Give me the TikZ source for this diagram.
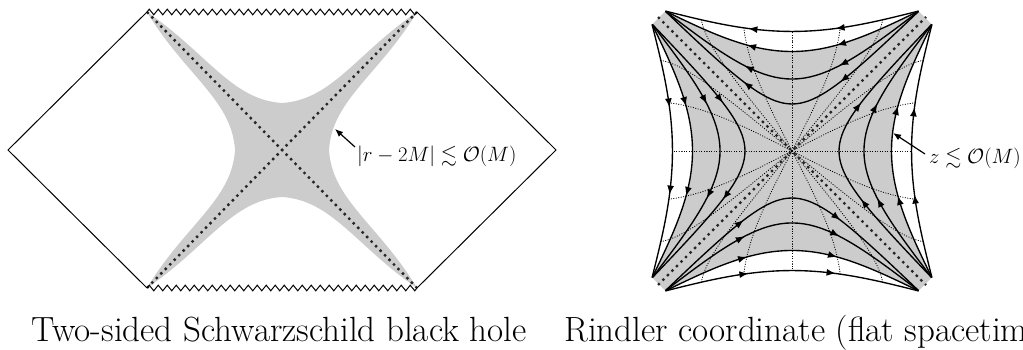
\documentclass[tikz,border=0pt]{standalone}
\usepackage{amssymb}
\usetikzlibrary{decorations.pathmorphing,decorations.markings,arrows.meta}
\begin{document}
\begin{tikzpicture}[x=1pt,y=1pt,
  declare function={
    wx(\p,\q)=1.411*(atan(\q*exp(\p))-atan(\q/exp(\p)));
    wt(\p,\q)=1.556*(atan(\q*exp(\p))+atan(\q/exp(\p)));
  },
  grayfill/.style={fill=black!20},
  horizon/.style={line width=2.4pt, dash pattern=on 2.4pt off 4pt, black!85},
  raddot/.style={line width=0.8pt, dash pattern=on 1pt off 1.5pt},
  outline/.style={line width=1pt},
  zz/.style={line width=1pt, decorate, decoration={zigzag, segment length=9pt, amplitude=2.8pt}},
  flow/.style={line width=1.35pt, postaction={decorate}, decoration={markings,
     mark=at position 0.33 with {\arrow{Latex[length=9pt,width=7pt]}},
     mark=at position 0.67 with {\arrow{Latex[length=9pt,width=7pt]}}}},
  pointer/.style={line width=1.2pt, -{Latex[length=8pt,width=6.5pt]}},
  labtext/.style={font=\fontsize{20.74}{25}\selectfont, inner sep=0pt},
  captext/.style={font=\fontsize{35}{40}\selectfont, inner sep=0pt}
]
\useasboundingbox (0,0) rectangle (1023,350);

% ---------------- left: Schwarzschild ----------------
\coordinate (TL) at (147,338);
\coordinate (TR) at (417,338);
\coordinate (BL) at (147,62);
\coordinate (BR) at (417,62);
\coordinate (LV) at (8,200);
\coordinate (RV) at (556,200);

\begin{scope}[shift={(282,200)}]
\fill[grayfill] (-135,138) .. controls (-97,75) and (-50,50) .. (-47,0)
  .. controls (-50,-50) and (-97,-75) .. (-135,-138)
  .. controls (-75,-97) and (-50,-50) .. (0,-47)
  .. controls (50,-50) and (75,-97) .. (135,-138)
  .. controls (97,-75) and (50,-50) .. (47,0)
  .. controls (50,50) and (97,75) .. (135,138)
  .. controls (75,97) and (50,50) .. (0,47)
  .. controls (-50,50) and (-75,97) .. (-135,138) -- cycle;
\end{scope}

\draw[horizon] (TL) -- (BR);
\draw[horizon] (BL) -- (TR);
\draw[outline] (TL) -- (LV) -- (BL);
\draw[outline] (TR) -- (RV) -- (BR);
\draw[zz] (TL) -- (TR);
\draw[zz] (BL) -- (BR);

\node[labtext, anchor=base west] (labL) at (357,188) {$|r-2M|\lesssim\mathcal{O}(M)$};
\coordinate (tailL) at (355,203);
\coordinate (tipL) at (335,221);
\draw[pointer] (tailL) -- (tipL);

% ---------------- right: Rindler ----------------
\begin{scope}[shift={(792,199)}]
\fill[grayfill] plot[domain=6:-6, samples=121] ({wx(\x,0.624)},{wt(\x,0.624)})
   -- plot[domain=6:-6, samples=121] ({-wt(\x,0.624)},{wx(\x,0.624)})
   -- plot[domain=6:-6, samples=121] ({-wx(\x,0.624)},{-wt(\x,0.624)})
   -- plot[domain=6:-6, samples=121] ({wt(\x,0.624)},{-wx(\x,0.624)}) -- cycle;
\foreach \ang in {0,90,180,270} {
  \begin{scope}[rotate=\ang]
    \foreach \pp in {0,0.65,-0.65,1.5,-1.5}
      \draw[raddot] plot[domain=0:0.793, samples=30, variable=\s] ({wx(\pp,\s)},{wt(\pp,\s)});
  \end{scope}
}
\coordinate (RTL) at (-134,134);
\coordinate (RTR) at (134,134);
\coordinate (RBL) at (-134,-134);
\coordinate (RBR) at (134,-134);
\draw[horizon] (RTL) -- (RBR);
\draw[horizon] (RBL) -- (RTR);
\foreach \ang in {0,90,180,270} {
  \begin{scope}[rotate=\ang]
    \foreach \rr in {0.27,0.427,0.624,0.793}
      \draw[flow] plot[domain=6:-6, samples=121] ({wx(\x,\rr)},{wt(\x,\rr)});
  \end{scope}
}
\end{scope}

\node[labtext, anchor=base west] (labR) at (929,186) {$z\lesssim\mathcal{O}(M)$};
\coordinate (tailR) at (925,196);
\coordinate (tipR) at (893,217);
\draw[pointer] (tailR) -- (tipR);

% ---------------- captions ----------------
\node[captext, anchor=base east] (capL) at (527,8) {Two-sided Schwarzschild black hole};
\node[captext, anchor=base west] (capR) at (564,8) {Rindler coordinate (flat spacetime)};
\end{tikzpicture}
\end{document}
